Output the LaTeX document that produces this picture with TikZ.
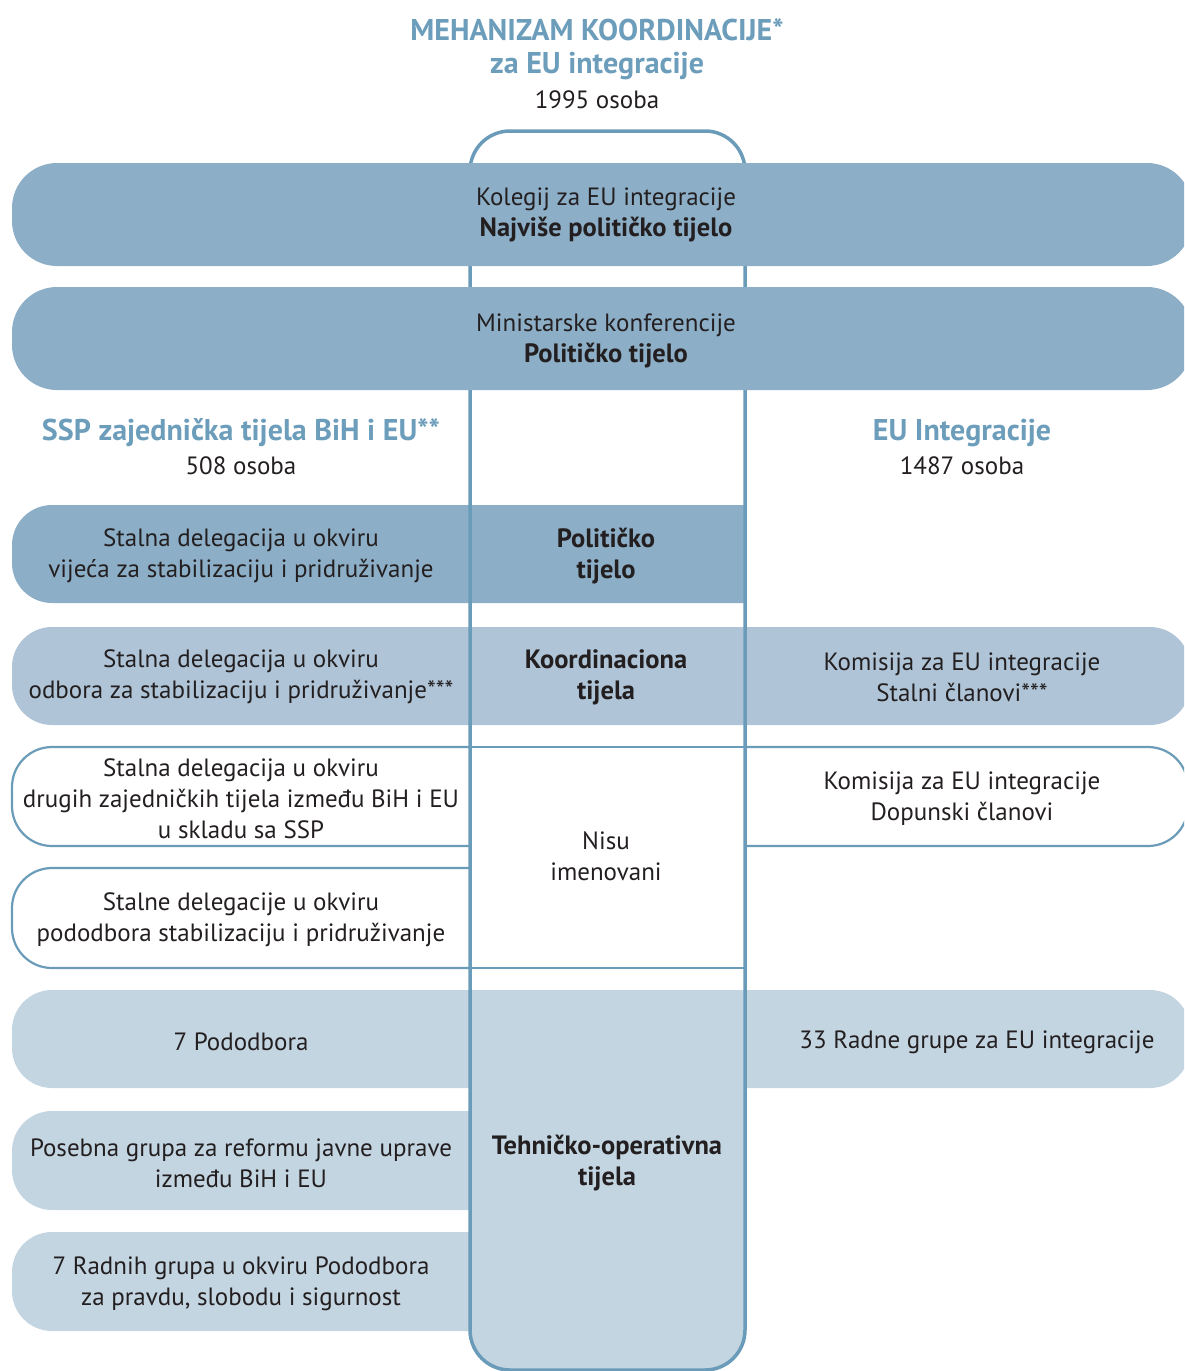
\documentclass[tikz,border=0pt]{standalone}
\usepackage{fontspec}
\setmainfont{PT Sans}
\definecolor{lineblue}{HTML}{6A9CBA}
\definecolor{headblue}{HTML}{6C9DBB}
\definecolor{darkband}{HTML}{8CAEC6}
\definecolor{midband}{HTML}{AFC5D7}
\definecolor{lightband}{HTML}{C4D5E2}
\definecolor{txt}{HTML}{231F20}
\begin{document}
\begin{tikzpicture}[x=1pt,y=-1pt,
  lbl/.style={align=center, text=txt, font=\fontsize{25}{31}\selectfont, inner sep=0pt, yshift=-3pt},
  bl/.style={align=center, text=txt, font=\bfseries\fontsize{26.5}{31}\selectfont, inner sep=0pt, yshift=-3pt},
  head/.style={align=center, text=headblue, font=\bfseries\fontsize{30}{36}\selectfont, inner sep=0pt, yshift=-2pt},
  colline/.style={draw=lineblue, line width=3.5pt},
  boxline/.style={draw=lineblue, line width=2.2pt},
  bandr/.style={rounded corners=40},
]
\useasboundingbox (0,0) rectangle (1184,1371);
\begin{scope}
\clip (0,0) rectangle (1184,1371);
% central column light fill (technical part)
\begin{scope}
\clip (460,990) rectangle (755,1400);
\fill[lightband, bandr] (470,131) rectangle (745,1370);
\end{scope}
% Row A: political
\begin{scope}
\clip (0,490) rectangle (745,620);
\fill[darkband, bandr] (12,505) rectangle (800,603);
\end{scope}
% Row B: coordination
\fill[midband, bandr] (12,627) rectangle (1190,725);
% Row E: subcommittees
\fill[lightband, bandr] (12,990) rectangle (1190,1088);
% Rows F, G
\begin{scope}
\clip (0,1100) rectangle (470,1340);
\fill[lightband, bandr] (12,1111) rectangle (520,1210);
\fill[lightband, bandr] (12,1232) rectangle (520,1331);
\end{scope}
% outlined boxes left
\begin{scope}
\clip (0,730) rectangle (470,985);
\draw[boxline, bandr] (12,747) rectangle (520,846);
\draw[boxline, bandr] (12,868) rectangle (520,968);
\end{scope}
% outlined box right
\begin{scope}
\clip (745,730) rectangle (1184,860);
\draw[boxline, bandr] (700,747) rectangle (1188,846);
\end{scope}
% center cell lines
\draw[boxline] (470,747) -- (745,747);
\draw[boxline] (470,968) -- (745,968);
% central column outline
\draw[colline, bandr] (470,131) rectangle (745,1370);
% top bands
\fill[darkband, rounded corners=45] (12,163) rectangle (1192,266);
\fill[darkband, rounded corners=45] (12,287) rectangle (1192,390);
\end{scope}

% title
\node[head] (t1) at (597,28) {MEHANIZAM KOORDINACIJE*};
\node[head] (t2) at (597,64) {za EU integracije};
\node[lbl] (t3) at (597,97) {1995 osoba};

\node[lbl] (kol) at (606,212) {Kolegij za EU integracije\\{\bfseries\fontsize{26.5}{31}\selectfont Najviše političko tijelo}};
\node[lbl] (min) at (606,338) {Ministarske konferencije\\{\bfseries\fontsize{26.5}{31}\selectfont Političko tijelo}};

\node[head] (hl) at (241,431) {SSP zajednička tijela BiH i EU**};
\node[lbl] (hl2) at (241,463) {508 osoba};
\node[head] (hr) at (962,431) {EU Integracije};
\node[lbl] (hr2) at (962,463) {1487 osoba};

\node[lbl] (a1) at (241,553) {Stalna delegacija u okviru\\vijeća za stabilizaciju i pridruživanje};
\node[bl] (a2) at (606,553) {Političko\\tijelo};

\node[lbl] (b1) at (241,674) {Stalna delegacija u okviru\\odbora za stabilizaciju i pridruživanje***};
\node[bl] (b2) at (606,674) {Koordinaciona\\tijela};
\node[lbl] (b3) at (962,674) {Komisija za EU integracije\\Stalni članovi***};

\node[lbl] (c1) at (241,796) {Stalna delegacija u okviru\\drugih zajedničkih tijela između BiH i EU\\u skladu sa SSP};
\node[lbl] (c2) at (606,853) {Nisu\\imenovani};
\node[lbl] (c3) at (962,796) {Komisija za EU integracije\\Dopunski članovi};

\node[lbl] (d1) at (241,917) {Stalne delegacije u okviru\\pododbora stabilizaciju i pridruživanje};

\node[lbl] (e1) at (241,1039) {7 Pododbora};
\node[lbl] (e3) at (977,1039) {33 Radne grupe za EU integracije};

\node[lbl] (f1) at (241,1160) {Posebna grupa za reformu javne uprave\\između BiH i EU};
\node[bl] (f2) at (607,1160) {Tehničko-operativna\\tijela};

\node[lbl] (g1) at (241,1281) {7 Radnih grupa u okviru Pododbora\\za pravdu, slobodu i sigurnost};
\end{tikzpicture}
\end{document}
